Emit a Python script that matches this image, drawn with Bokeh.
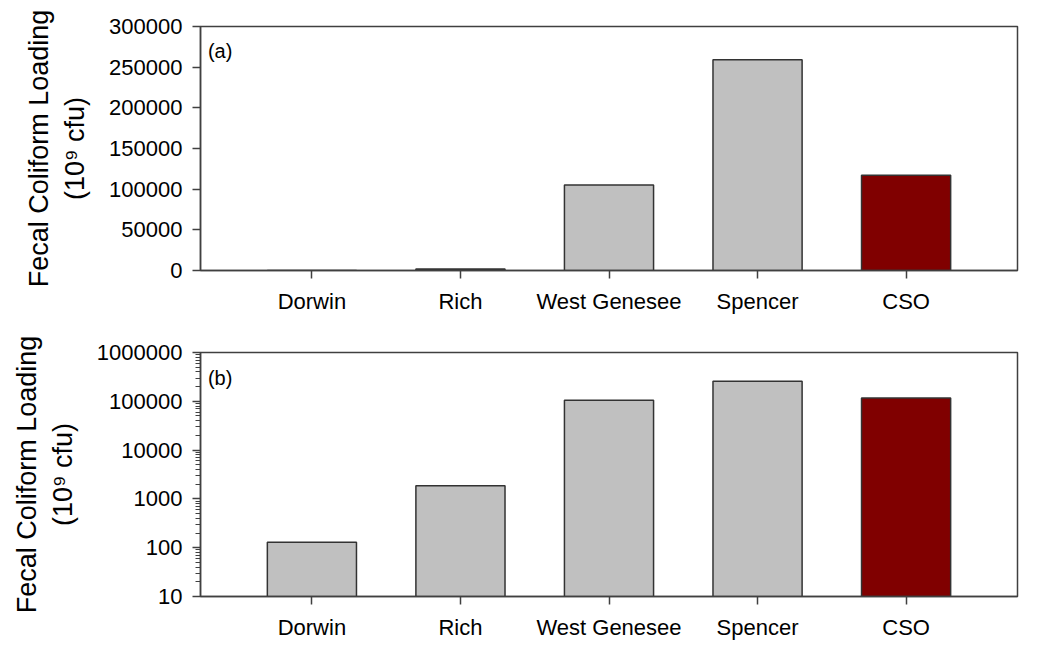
from bokeh.plotting import figure
from bokeh.layouts import column
from bokeh.models import FactorRange, Range1d, Label, ColumnDataSource, FixedTicker, PrintfTickFormatter
from bokeh.embed import file_html
from bokeh.resources import INLINE

sites = ["Dorwin", "Rich", "West Genesee", "Spencer", "CSO"]
loading = [130, 1850, 105000, 259000, 117000]
bar_colors = ["#C0C0C0", "#C0C0C0", "#C0C0C0", "#C0C0C0", "#800000"]
lin_ticks = [0, 50000, 100000, 150000, 200000, 250000, 300000]
log_ticks = [10, 100, 1000, 10000, 100000, 1000000]
ylabel = "Fecal Coliform Loading\n(10\u2079 cfu)"

FONT = "Liberation Sans"
AX = "#404040"

src = ColumnDataSource(dict(site=sites, loading=loading, color=bar_colors))


def style(p):
    p.xgrid.visible = False
    p.ygrid.visible = False
    p.outline_line_color = AX
    p.outline_line_width = 1.5
    p.background_fill_color = "white"
    p.border_fill_color = "white"
    for ax in (p.xaxis, p.yaxis):
        ax.axis_line_color = AX
        ax.axis_line_width = 1.5
        ax.major_tick_line_color = AX
        ax.major_tick_line_width = 1.5
        ax.major_tick_out = 8
        ax.major_tick_in = 0
        ax.major_label_text_font = FONT
        ax.major_label_text_font_size = "22px"
        ax.major_label_text_color = "black"
        ax.major_label_text_font_style = "normal"
    p.xaxis.major_label_standoff = 10
    p.yaxis.major_label_standoff = 10
    p.yaxis.axis_label = ylabel
    p.yaxis.axis_label_text_font = FONT
    p.yaxis.axis_label_text_font_size = "27px"
    p.yaxis.axis_label_text_font_style = "normal"
    p.yaxis.axis_label_text_color = "black"
    p.yaxis.axis_label_standoff = 16


# Panel (a): linear
p1 = figure(x_range=FactorRange(*sites, range_padding=0.25, range_padding_units="absolute"),
            y_range=Range1d(0, 300000), width=1037, height=318,
            min_border_left=200, min_border_right=20, min_border_top=26, min_border_bottom=48,
            output_backend="svg", toolbar_location=None)
p1.vbar(x="site", top="loading", bottom=0, width=0.6, source=src,
        fill_color="color", line_color="#333333", line_width=1.5)
style(p1)
p1.yaxis.ticker = FixedTicker(ticks=lin_ticks, minor_ticks=[])
p1.yaxis.formatter = PrintfTickFormatter(format="%d")
p1.yaxis.minor_tick_out = 0
p1.add_layout(Label(x=-0.2, y=283000, text="(a)", text_baseline="top", text_align="left",
                    text_font=FONT, text_font_size="20px", text_color="black"))

# Panel (b): log
minor = [m * t for t in log_ticks[:-1] for m in range(2, 10)]
p2 = figure(x_range=FactorRange(*sites, range_padding=0.25, range_padding_units="absolute"),
            y_range=Range1d(10, 1e6), y_axis_type="log", width=1037, height=326,
            min_border_left=200, min_border_right=20, min_border_top=34, min_border_bottom=48,
            output_backend="svg", toolbar_location=None)
p2.vbar(x="site", top="loading", bottom=10, width=0.6, source=src,
        fill_color="color", line_color="#333333", line_width=1.5)
style(p2)
p2.yaxis.ticker = FixedTicker(ticks=log_ticks, minor_ticks=minor)
p2.yaxis.formatter = PrintfTickFormatter(format="%d")
p2.yaxis[0].minor_tick_out = 5
p2.yaxis[0].minor_tick_in = 0
p2.yaxis[0].minor_tick_line_color = "#404040"
p2.yaxis[0].minor_tick_line_width = 1
p2.add_layout(Label(x=-0.2, y=515000, text="(b)", text_baseline="top", text_align="left",
                    text_font=FONT, text_font_size="20px", text_color="black"))

layout = column(p1, p2, spacing=0)
open("out.html", "w").write(file_html(layout, INLINE))
